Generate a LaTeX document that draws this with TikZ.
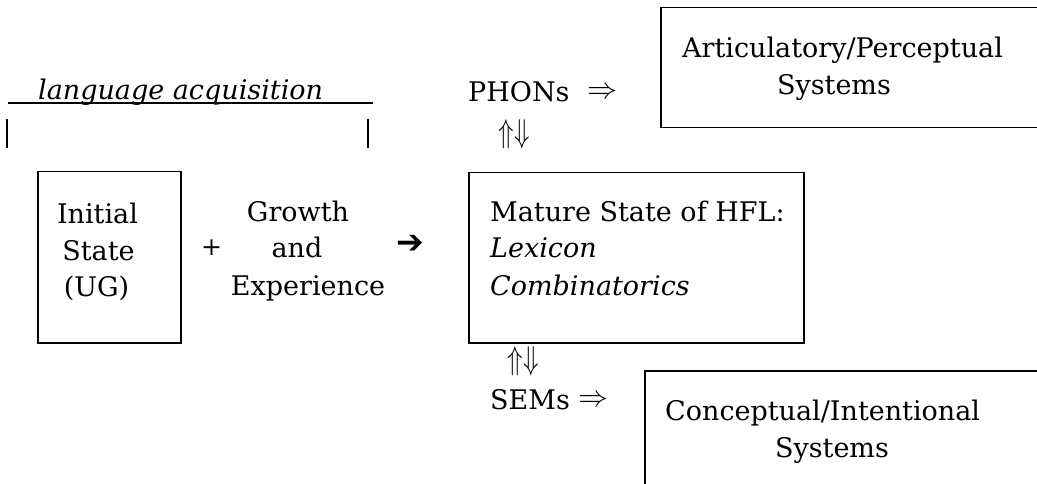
\documentclass[tikz,border=0pt]{standalone}
\usepackage{fontspec}
\setmainfont{DejaVu Serif}
\newfontfamily\symbolfont{DejaVu Sans}
\begin{document}
\begin{tikzpicture}[x=1pt,y=-1pt,
  box/.style={draw, line width=1.5pt, inner sep=0pt, anchor=north west},
  txt/.style={inner sep=0pt, anchor=base west, font=\fontsize{27}{36}\selectfont},
  ctxt/.style={txt, anchor=base},
  dblarrow/.style={inner sep=0pt, scale=3},
  updown/.style={dblarrow, xscale=0.85, yscale=1.1},
  bar/.style={line width=2pt}]
\clip (0,0) rectangle (1037,484);
\fill[white] (0,0) rectangle (1037,484);

% span of language acquisition
\node[txt] (acq) at (38,100) {\itshape language acquisition};
\draw[line width=1.6pt] (8,103) -- (373,103);
\draw[bar] (7,119) -- (7,148);
\draw[bar] (368,119) -- (368,148);

% initial state
\node[box, minimum width=143pt, minimum height=171pt] (init) at (37,171) {};
\node[ctxt] (init1) at (97.5,223) {Initial};
\node[ctxt] (init2) at (98.5,260) {State};
\node[ctxt] (init3) at (96.5,296) {(UG)};

\node[inner sep=0pt, font=\fontsize{25}{25}\selectfont] (plus) at (211.5,248) {+};

\node[ctxt] (grow1) at (298,222) {Growth};
\node[ctxt] (grow2) at (297,258) {and};
\node[ctxt] (grow3) at (308,295) {Experience};

\node[inner sep=0pt, font=\symbolfont\fontsize{33}{33}\selectfont] (yields) at (410,244) {➔};

% mature state
\node[box, minimum width=335pt, minimum height=170pt] (mature) at (468,172) {};
\node[txt] (mat1) at (490,222) {Mature State of HFL:};
\node[txt] (mat2) at (490,258) {\itshape Lexicon};
\node[txt] (mat3) at (490,295) {\itshape Combinatorics};

% interface to the articulatory/perceptual systems
\node[txt] (phon) at (468,102) {PHONs};
\node[dblarrow] (phonarr) at (602,93) {$\Rightarrow$};
\node[updown] (phonud) at (514,134) {$\Uparrow\Downarrow$};
\node[box, minimum width=420pt, minimum height=120pt] (ap) at (660,7) {};
\node[txt] (ap1) at (682,58) {Articulatory/Perceptual};
\node[ctxt] (ap2) at (834,95) {Systems};

% interface to the conceptual/intentional systems
\node[updown] (semud) at (523,361) {$\Uparrow\Downarrow$};
\node[txt] (sem) at (490,409) {SEMs};
\node[dblarrow] (semarr) at (593,401) {$\Rightarrow$};
\node[box, minimum width=440pt, minimum height=160pt] (ci) at (644,370) {};
\node[txt] (ci1) at (665,420) {Conceptual/Intentional};
\node[ctxt] (ci2) at (832,457) {Systems};
\end{tikzpicture}
\end{document}
